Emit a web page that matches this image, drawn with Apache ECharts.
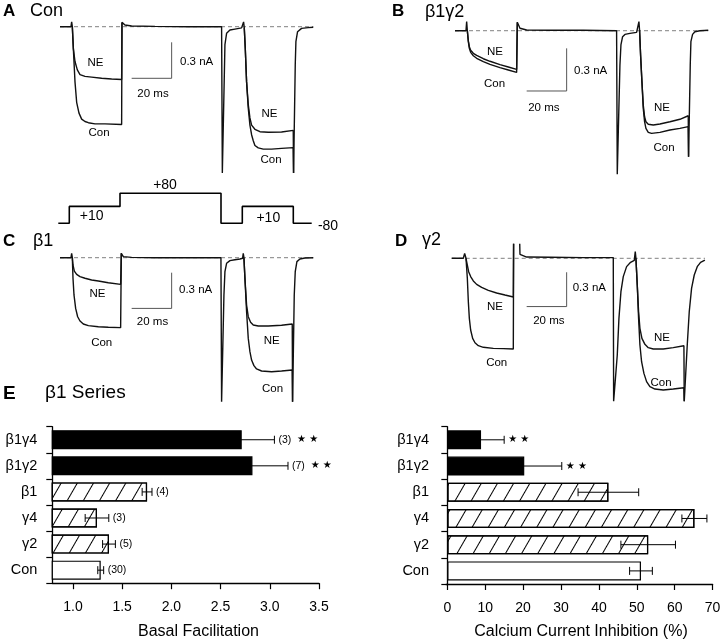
<!DOCTYPE html>
<html><head><meta charset="utf-8">
<script src="https://cdn.jsdelivr.net/npm/echarts@6/dist/echarts.min.js"></script>
<style>html,body{margin:0;padding:0;background:#fff}#c{width:720px;height:641px}</style>
</head><body><div id="c"></div>
<script>
const FONT = "'Liberation Sans', Arial, Helvetica, sans-serif";

// ---- Current traces: [time (ms), current (nA)] ----
// Panel A (Con)
const aCon = [[0,0],[5.5,0],[5.83,0.04],[6.17,0],[6.67,-0.18],[7.5,-0.46],[8.33,-0.63],[9.5,-0.72],[10.83,-0.77],[12.5,-0.79],[14.17,-0.8],[17.5,-0.81],[22.5,-0.81],[30.83,-0.815],
 [31,0.036],[32.5,0.014],[35.83,0.006],[47.5,0.003],[64.17,0],[80.83,0],
 [81.2,-1.22],[81.8,-1.22],[82.5,-0.15],[83.33,-0.055],[85,-0.028],[87.5,-0.02],[90.83,-0.01],[91.67,-0.008],
 [91.83,0.04],[92.17,-0.008],[92.67,-0.18],[93.33,-0.46],[94.17,-0.68],[95,-0.82],[95.83,-0.9],[96.67,-0.95],[97.5,-0.99],[99.17,-1.01],[101.67,-1.02],[105.83,-1.02],[110.83,-1.014],[116.67,-1.008],
 [116.83,-1.22],[117.33,-1.22],[117.67,-0.32],[118,-0.125],[118.83,-0.042],[120.83,-0.014],[124.17,-0.008],[126.67,-0.005]];
const aNE1 = [[6.17,0],[6.67,-0.18],[7.5,-0.29],[8.67,-0.36],[10,-0.4],[12.5,-0.414],[15.83,-0.42],[20.83,-0.43],[25.83,-0.436],[30.83,-0.44],[31,0.036]];
const aNE2 = [[92.17,-0.008],[92.67,-0.18],[93.33,-0.46],[94.17,-0.65],[95,-0.76],[95.83,-0.82],[97.5,-0.855],[100,-0.875],[104.17,-0.88],[110.83,-0.878],[116.67,-0.864],[116.83,-1.22]];

// Panel B (beta1 gamma2)
const bCon = [[0,0],[5.5,0],[5.83,0.064],[6.17,0],[6.67,-0.077],[7.17,-0.124],[7.83,-0.152],[9.17,-0.176],[10.83,-0.194],[14.17,-0.218],[17.5,-0.237],[22.5,-0.26],[26.67,-0.276],[30.83,-0.293],
 [31.17,0.059],[32.5,0.017],[35.83,0.005],[47.5,0.003],[64.17,0.003],[80.83,0],
 [81.17,-1.01],[81.83,-1.01],[82.5,-0.241],[83,-0.1],[83.83,-0.042],[85,-0.026],[87.5,-0.019],[90.83,-0.012],[91.83,-0.007],
 [92,0.064],[92.33,0],[92.83,-0.171],[93.5,-0.358],[94.17,-0.546],[94.83,-0.64],[95.5,-0.687],[96.67,-0.715],[98.33,-0.722],[102.5,-0.715],[107.5,-0.698],[112.5,-0.687],[116.67,-0.675],
 [116.83,-0.886],[117.33,-0.886],[117.67,-0.241],[118,-0.077],[118.83,-0.026],[120,-0.007],[122.5,0],[126.67,0.003]];
const bNE1 = [[6.17,0],[6.67,-0.072],[7.17,-0.112],[7.83,-0.138],[9.17,-0.159],[10.83,-0.173],[14.17,-0.197],[17.5,-0.215],[22.5,-0.239],[26.67,-0.255],[30.83,-0.272],[31.17,0.059]];
const bNE2 = [[92.33,0],[92.83,-0.171],[93.5,-0.358],[94.17,-0.523],[94.83,-0.605],[95.5,-0.64],[96.67,-0.658],[99.17,-0.663],[102.5,-0.656],[107.5,-0.64],[112.5,-0.623],[116.67,-0.598],[116.83,-0.886]];

// Panel C (beta1)
const cCon = [[0,0],[5.5,0],[5.83,0.037],[6.17,0],[6.5,-0.173],[7,-0.313],[7.83,-0.426],[8.83,-0.496],[10,-0.532],[11.67,-0.557],[14.17,-0.571],[19.17,-0.58],[24.17,-0.585],[30.33,-0.588],
 [30.67,0.037],[31.67,0.009],[35.83,0.003],[47.5,0],[80.5,0],
 [80.83,-1.21],[81.5,-1.21],[82,-0.313],[82.5,-0.117],[83.33,-0.047],[85,-0.025],[87.5,-0.017],[90,-0.011],[91.33,-0.005],
 [91.67,0.037],[92,0],[92.5,-0.173],[93.33,-0.454],[94.17,-0.678],[95,-0.79],[95.83,-0.86],[97,-0.907],[98.33,-0.935],[100.83,-0.952],[105.83,-0.958],[110.83,-0.952],[116.17,-0.944],
 [116.33,-1.21],[116.83,-1.21],[117.17,-0.313],[117.67,-0.117],[118.5,-0.033],[120,-0.011],[122.5,-0.003],[126.67,0]];
const cNE1 = [[6.17,0],[6.5,-0.061],[7.17,-0.112],[8.33,-0.14],[10,-0.159],[12.5,-0.173],[15.83,-0.187],[19.17,-0.196],[24.17,-0.21],[30.33,-0.224],[30.67,0.037]];
const cNE2 = [[92,0],[92.5,-0.173],[93.33,-0.398],[94.17,-0.496],[95.33,-0.543],[96.67,-0.566],[99.17,-0.574],[104.17,-0.574],[110.83,-0.568],[116.17,-0.557],[116.33,-1.21]];

// Panel D (gamma2)
const dCon = [[0,0],[5.82,0],[6.48,0.043],[7.15,0],[7.82,-0.175],[8.32,-0.379],[8.82,-0.525],[9.48,-0.627],[10.48,-0.7],[11.65,-0.738],[13.32,-0.764],[15.82,-0.778],[20.82,-0.787],[25.82,-0.79],[30.82,-0.793],
 [31,0.3],[33.8,0.3],[34.15,0.035],[34.98,0.02],[37.48,0.011],[49.15,0.009],[65.82,0.006],[80.82,0.006],
 [81,-1.25],[81.98,-1.25],[82.82,-0.845],[83.65,-0.525],[84.65,-0.292],[85.82,-0.16],[87.48,-0.073],[89.48,-0.035],[91.32,-0.018],
 [91.82,0.058],[92.15,0],[92.82,-0.233],[93.48,-0.525],[94.15,-0.758],[94.98,-0.904],[96.15,-1.006],[97.48,-1.078],[99.15,-1.122],[101.65,-1.143],[105.82,-1.151],[110.82,-1.143],[116.15,-1.131],
 [116.32,-1.25],[116.98,-1.25],[117.82,-0.758],[118.82,-0.467],[119.98,-0.263],[121.32,-0.146],[122.82,-0.073],[124.48,-0.035],[126.65,-0.015]];
const dNE1 = [[7.15,0],[7.82,-0.059],[8.48,-0.117],[9.48,-0.16],[10.82,-0.198],[12.48,-0.228],[14.98,-0.254],[18.32,-0.28],[22.48,-0.303],[26.65,-0.321],[30.82,-0.338],[31,0.3]];
const dNE2 = [[92.15,0],[92.82,-0.233],[93.48,-0.467],[94.15,-0.612],[95.15,-0.7],[96.65,-0.752],[98.32,-0.781],[100.82,-0.793],[105.82,-0.793],[110.82,-0.781],[116.15,-0.764],[116.32,-1.25]];

// Scale bars
const scaleMs = 20, scaleNa = 0.3;

// Voltage protocol (step times in ms, command potential in mV)
const protoT  = [0, 5.5, 30.85, 81.35, 92, 117.5, 126.7];
const protoMV = [-80, 10, 80, -80, 10, -80, -80];
const protoLabels = ['+80', '+10', '+10', '-80'];

// ---- E: beta1 series bar charts ----
const cats = ['β1γ4', 'β1γ2', 'β1', 'γ4', 'γ2', 'Con'];
const groupType = ['combo', 'combo', 'single', 'single', 'single', 'control'];
const facMean = [2.715, 2.824, 1.753, 1.244, 1.366, 1.282];
const facErr  = [0.332, 0.361, 0.05, 0.12, 0.065, 0.03];
const facN    = ['(3)', '(7)', '(4)', '(3)', '(5)', '(30)'];
const inhMean = [8.9, 20.3, 42.5, 65.2, 53.0, 51.1];
const inhErr  = [6.1, 9.9, 8.0, 3.3, 7.2, 3.0];
const sig     = ['**', '**', '', '', '', ''];
const facTicks = [1.0, 1.5, 2.0, 2.5, 3.0, 3.5];
const inhTicks = [0, 10, 20, 30, 40, 50, 60, 70];

// ---- build option ----
const panels = [
  {con: aCon, ne: [aNE1, aNE2], grid: {left: 60, top: 14.7, width: 253.3, height: 162}, ymin: -1.25, ymax: 0.1, sb: [55.85, -0.13]},
  {con: bCon, ne: [bNE1, bNE2], grid: {left: 455, top: 16.5, width: 253.3, height: 163.5}, ymin: -1.05, ymax: 0.1, sb: [55.85, -0.124]},
  {con: cCon, ne: [cNE1, cNE2], grid: {left: 60, top: 245.8, width: 253.3, height: 160.65}, ymin: -1.25, ymax: 0.1, sb: [55.85, -0.126]},
  {con: dCon, ne: [dNE1, dNE2], grid: {left: 451.7, top: 244.57, width: 253.3, height: 162.45}, ymin: -1.3, ymax: 0.12, sb: [57.5, -0.122]}
];
const XMAX = 126.7;

const grids = [], xAxes = [], yAxes = [], series = [];
const hid = {show: false};
panels.forEach((p, i) => {
  grids.push(Object.assign({outerBoundsMode: 'none', containLabel: false}, p.grid));
  xAxes.push({type: 'value', gridIndex: i, min: 0, max: XMAX, show: false});
  yAxes.push({type: 'value', gridIndex: i, min: p.ymin, max: p.ymax, show: false});
  const base = {type: 'line', xAxisIndex: i, yAxisIndex: i, symbol: 'none', silent: true, animation: false, clip: true};
  series.push(Object.assign({}, base, {data: [[0, 0], [XMAX, 0]], z: 1, lineStyle: {color: '#808080', width: 1, type: [4, 3]}}));
  series.push(Object.assign({}, base, {data: p.con, z: 3, lineStyle: {color: '#111', width: 1.4}}));
  p.ne.forEach(seg => series.push(Object.assign({}, base, {data: seg, z: 3, lineStyle: {color: '#111', width: 1.4}})));
  const [st, si] = p.sb;
  series.push(Object.assign({}, base, {data: [[st, si], [st, si - scaleNa], [st - scaleMs, si - scaleNa]], z: 2, lineStyle: {color: '#555', width: 1}}));
});

// protocol grid (index 4)
grids.push({left: 58.3, top: 191.4, width: 253.4, height: 33.75, outerBoundsMode: 'none'});
xAxes.push({type: 'value', gridIndex: 4, min: 0, max: XMAX, show: false});
yAxes.push({type: 'value', gridIndex: 4, min: -90, max: 90, show: false});
series.push({type: 'line', xAxisIndex: 4, yAxisIndex: 4, step: 'end', symbol: 'none', silent: true, animation: false,
  data: protoT.map((t, k) => [t, protoMV[k]]), lineStyle: {color: '#000', width: 1.6}});

// bar grids (5, 6)
grids.push({left: 52.3, top: 426.7, width: 266.7, height: 156.5, outerBoundsMode: 'none'});
grids.push({left: 446, top: 426.7, width: 266.6, height: 157.3, outerBoundsMode: 'none'});
const axLine = {show: true, lineStyle: {color: '#000', width: 1.3}};
const axTick = {show: true, length: 6, inside: false, lineStyle: {color: '#000', width: 1.2}};
xAxes.push({type: 'value', gridIndex: 5, min: 0.79, max: 3.5, splitLine: hid, axisLine: axLine,
  axisTick: Object.assign({customValues: facTicks}, axTick),
  axisLabel: {customValues: facTicks, formatter: v => v.toFixed(1), color: '#000', fontSize: 14, fontFamily: FONT, margin: 17}});
xAxes.push({type: 'value', gridIndex: 6, min: -0.35, max: 70, splitLine: hid, axisLine: axLine,
  axisTick: Object.assign({customValues: inhTicks}, axTick),
  axisLabel: {customValues: inhTicks, color: '#000', fontSize: 14, fontFamily: FONT, margin: 17}});
[5, 6].forEach(g => yAxes.push({type: 'category', gridIndex: g, data: cats, inverse: true, axisLine: axLine,
  axisTick: axTick, splitLine: hid,
  axisLabel: {color: '#000', fontSize: 14.5, fontFamily: FONT, margin: g === 5 ? 15 : 17}}));

function styleFor(kind) {
  const s = {borderColor: '#000', borderWidth: 1.2};
  if (kind === 'combo') s.color = '#000';
  else if (kind === 'single') {
    s.color = '#fff';
    s.decal = {symbol: 'rect', symbolSize: 1, dashArrayX: [1, 0], dashArrayY: [1, 13], rotation: -Math.PI / 3, color: '#000'};
  } else s.color = '#fff';
  return s;
}
const starText = s => s.split('').map(() => '★').join(' ');

function errSeries(gi, mean, err, texts, sigs) {
  return {
    type: 'custom', coordinateSystem: 'cartesian2d', xAxisIndex: gi, yAxisIndex: gi, silent: true, animation: false, z: 5,
    encode: {x: [1, 2], y: 0},
    data: cats.map((c, k) => [k, mean[k] - err[k], mean[k] + err[k]]),
    renderItem: (params, api) => {
      const k = params.dataIndex;
      const lo = api.coord([api.value(1), api.value(0)]);
      const hi = api.coord([api.value(2), api.value(0)]);
      const cy = lo[1];
      const st = {stroke: '#000', lineWidth: 1};
      const ch = [
        {type: 'line', shape: {x1: lo[0], y1: cy, x2: hi[0], y2: cy}, style: st},
        {type: 'line', shape: {x1: lo[0], y1: cy - 4, x2: lo[0], y2: cy + 4}, style: st},
        {type: 'line', shape: {x1: hi[0], y1: cy - 4, x2: hi[0], y2: cy + 4}, style: st}
      ];
      let t = '';
      if (texts && texts[k]) t += '{n|' + texts[k] + '}';
      if (sigs[k]) t += (t ? '{n|  }' : '') + '{s|' + starText(sigs[k]) + '}';
      if (t) ch.push({type: 'text', x: hi[0] + 4, y: cy, style: {text: t, fill: '#000', align: 'left', verticalAlign: 'middle',
        rich: {n: {fontSize: 10.5, fontFamily: FONT, fill: '#000'}, s: {fontSize: 10, fontFamily: 'DejaVu Sans', fill: '#000'}}}});
      return {type: 'group', children: ch};
    }
  };
}

series.push({type: 'bar', xAxisIndex: 5, yAxisIndex: 5, barWidth: 19, silent: true, animation: false, z: 2,
  data: cats.map((c, k) => ({value: facMean[k], itemStyle: styleFor(groupType[k])}))});
series.push({type: 'bar', xAxisIndex: 6, yAxisIndex: 6, barWidth: 19, silent: true, animation: false, z: 2,
  data: cats.map((c, k) => ({value: inhMean[k], itemStyle: styleFor(groupType[k])}))});
series.push(errSeries(5, facMean, facErr, facN, sig));
series.push(errSeries(6, inhMean, inhErr, null, sig));

function T(text, x, y, size, align, bold) {
  const a = align || 'left';
  return {type: 'text', x: x, y: y, silent: true, z: 10,
    style: {text: text, fill: '#000', font: (bold ? 'bold ' : '') + size + 'px ' + FONT,
      align: a, verticalAlign: 'middle', textAlign: a, textVerticalAlign: 'middle'}};
}
const graphics = [
  T('A', 3, 11, 17, 'left', true), T('Con', 30, 11, 18),
  T('B', 392, 11, 17, 'left', true), T('β1γ2', 425, 12, 18),
  T('C', 3, 241.5, 17, 'left', true), T('β1', 33, 241, 18),
  T('D', 395, 241, 17, 'left', true), T('γ2', 422, 240, 18),
  T('E', 3, 394, 19, 'left', true), T('β1 Series', 45, 393, 19),
  // A
  T('NE', 95.5, 62.7, 11.5, 'center'), T('Con', 99, 133.3, 11.5, 'center'),
  T('0.3 nA', 180, 61.7, 11.5), T('20 ms', 153, 94, 11.5, 'center'),
  T('NE', 269.5, 114.3, 11.5, 'center'), T('Con', 271, 160, 11.5, 'center'),
  // B
  T('NE', 495, 51.7, 11.5, 'center'), T('Con', 494.5, 84, 11.5, 'center'),
  T('0.3 nA', 574, 71, 11.5), T('20 ms', 543.8, 108.3, 11.5, 'center'),
  T('NE', 662, 108.3, 11.5, 'center'), T('Con', 664, 148.3, 11.5, 'center'),
  // C
  T('NE', 97.5, 294.3, 11.5, 'center'), T('Con', 101.7, 342.7, 11.5, 'center'),
  T('0.3 nA', 179, 290, 11.5), T('20 ms', 152.5, 322.3, 11.5, 'center'),
  T('NE', 271.7, 340.7, 11.5, 'center'), T('Con', 272.5, 389.3, 11.5, 'center'),
  // D
  T('NE', 495, 306.7, 11.5, 'center'), T('Con', 496.7, 363.3, 11.5, 'center'),
  T('0.3 nA', 572.7, 287.7, 11.5), T('20 ms', 548.8, 321, 11.5, 'center'),
  T('NE', 662, 337.7, 11.5, 'center'), T('Con', 661, 383.3, 11.5, 'center'),
  // protocol
  T(protoLabels[0], 165, 185, 14, 'center'), T(protoLabels[1], 91.7, 216, 14, 'center'),
  T(protoLabels[2], 268.3, 217.7, 14, 'center'), T(protoLabels[3], 328, 226, 14, 'center'),
  // axis titles
  T('Basal Facilitation', 198.5, 631.7, 16, 'center'),
  T('Calcium Current Inhibition (%)', 581, 631.7, 16, 'center')
];

const chart = echarts.init(document.getElementById('c'), null, {renderer: 'canvas'});
chart.setOption({
  animation: false, backgroundColor: '#fff',
  grid: grids, xAxis: xAxes, yAxis: yAxes, series: series, graphic: graphics
});
</script></body></html>
